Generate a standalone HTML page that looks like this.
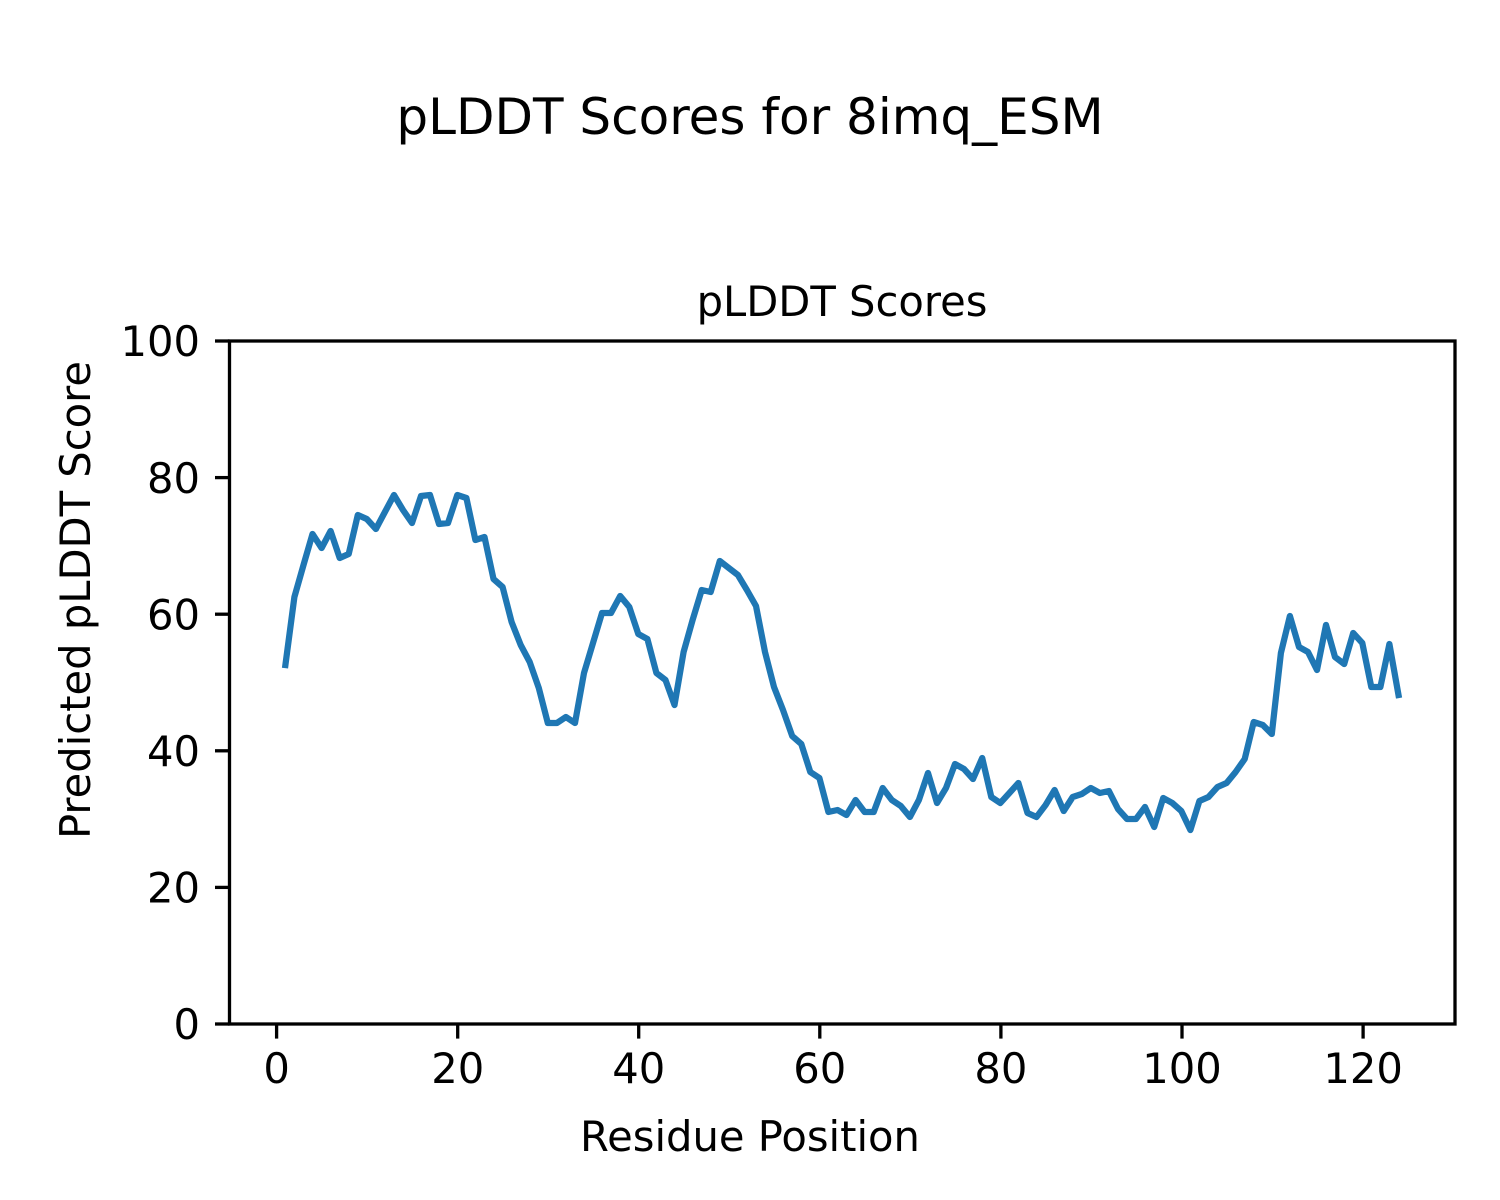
<!DOCTYPE html>
<html>
<head>
<meta charset="utf-8">
<style>
  html, body { margin: 0; padding: 0; background: #ffffff; }
  svg { display: block; }
  text { font-family: "DejaVu Sans", "Liberation Sans", sans-serif; fill: #000; }
</style>
</head>
<body>
<svg width="1500" height="1200" viewBox="0 0 1500 1200" xmlns="http://www.w3.org/2000/svg">
  <rect x="0" y="0" width="1500" height="1200" fill="#ffffff"/>

  <!-- Suptitle -->
  <text x="750" y="134" font-size="50" text-anchor="middle">pLDDT Scores for 8imq_ESM</text>
  <!-- Axes title -->
  <text x="842" y="316" font-size="41.67" text-anchor="middle">pLDDT Scores</text>

  <!-- Data line -->
  <polyline fill="none" stroke="#1f77b4" stroke-width="6.25" stroke-linejoin="round" stroke-linecap="square"
    points="285.4,665 294.4,597 303.5,565 312.5,534 321.6,548 330.6,531 339.7,558 348.7,554 357.8,515 366.8,519 375.9,529 384.9,512 394,495 403,510 412,523 421,496 430,495 439,524 448,523 457.3,495 466.4,498 475.4,540 484.5,537 493.5,579 502.6,587 511.6,622 520.7,645 529.7,662 538.8,688 547.8,723 556.9,723 565.9,717 575,723 584,673 593,643 602,613 611,613 620.2,596 629.3,607 638.3,634 647.4,639 656.4,673 665.5,680 674.5,705 683.6,652 692.6,620 701.7,590 710.7,592 719.8,561 728.8,568 737.9,575 746.9,590 756,606 765,652 774,687 783,710 792.2,736 801.3,744 810.3,772 819.4,778 828.4,812 837.5,810 846.5,815 855.6,800 864.6,812 873.7,812 882.7,788 891.8,800 900.8,806 909.9,817 918.9,800 928,773 937,803 946,788 955,764 964,769 973,779 982.2,758 991.3,797 1000.3,803 1009.4,793 1018.4,783 1027.5,813 1036.5,817 1045.6,805 1054.6,790 1063.7,811 1072.7,797 1081.8,794 1090.8,788 1099.9,793 1108.9,791 1118,809 1127,819 1136,819 1145,807 1154.2,827 1163.2,798 1172.3,803 1181.3,811 1190.4,830 1199.4,801 1208.5,797 1217.5,787 1226.6,783 1235.6,772 1244.7,759 1253.7,722 1262.8,725 1271.8,734 1280.9,653 1289.9,616 1299,647 1308,652 1317,670 1326,625 1335,657 1344.2,664 1353.2,633 1362.3,643 1371.3,687 1380.4,687 1389.4,644 1398.5,695"/>

  <!-- Axes frame -->
  <rect x="229.5" y="341" width="1225.5" height="683" fill="none" stroke="#000" stroke-width="3.3" stroke-linejoin="miter"/>

  <!-- Y ticks -->
  <g stroke="#000" stroke-width="3.3">
    <line x1="215" y1="1024" x2="229.5" y2="1024"/>
    <line x1="215" y1="887.4" x2="229.5" y2="887.4"/>
    <line x1="215" y1="750.8" x2="229.5" y2="750.8"/>
    <line x1="215" y1="614.2" x2="229.5" y2="614.2"/>
    <line x1="215" y1="477.6" x2="229.5" y2="477.6"/>
    <line x1="215" y1="341" x2="229.5" y2="341"/>
  </g>
  <g font-size="41.67" text-anchor="end">
    <text x="200" y="1039">0</text>
    <text x="200" y="902.5">20</text>
    <text x="200" y="766">40</text>
    <text x="200" y="629.5">60</text>
    <text x="200" y="493">80</text>
    <text x="200" y="356">100</text>
  </g>

  <!-- X ticks -->
  <g stroke="#000" stroke-width="3.3">
    <line x1="276.6" y1="1024" x2="276.6" y2="1038.6"/>
    <line x1="457.7" y1="1024" x2="457.7" y2="1038.6"/>
    <line x1="638.7" y1="1024" x2="638.7" y2="1038.6"/>
    <line x1="819.8" y1="1024" x2="819.8" y2="1038.6"/>
    <line x1="1000.9" y1="1024" x2="1000.9" y2="1038.6"/>
    <line x1="1182" y1="1024" x2="1182" y2="1038.6"/>
    <line x1="1363.1" y1="1024" x2="1363.1" y2="1038.6"/>
  </g>
  <g font-size="41.67" text-anchor="middle">
    <text x="276.6" y="1083">0</text>
    <text x="457.7" y="1083">20</text>
    <text x="638.7" y="1083">40</text>
    <text x="819.8" y="1083">60</text>
    <text x="1000.9" y="1083">80</text>
    <text x="1182" y="1083">100</text>
    <text x="1363.1" y="1083">120</text>
  </g>

  <!-- Axis labels -->
  <text x="750" y="1151" font-size="41.67" text-anchor="middle">Residue Position</text>
  <text x="0" y="0" font-size="41.67" text-anchor="middle" transform="translate(90,600) rotate(-90)">Predicted pLDDT Score</text>
</svg>
</body>
</html>
